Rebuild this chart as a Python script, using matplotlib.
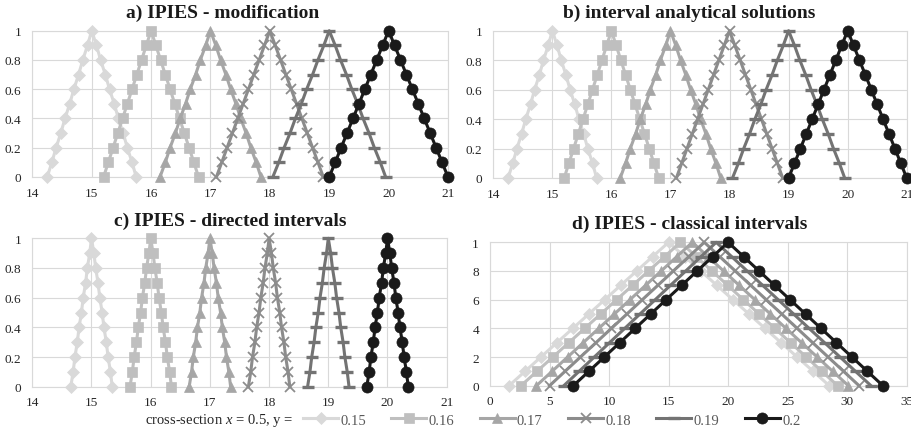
import matplotlib
matplotlib.use("Agg")
import matplotlib.pyplot as plt

plt.rcParams['font.family'] = ['Liberation Serif', 'DejaVu Serif']
plt.rcParams['mathtext.fontset'] = 'custom'
plt.rcParams['mathtext.it'] = 'Liberation Serif:italic'
plt.rcParams['mathtext.rm'] = 'Liberation Serif'

# ---------------- data ----------------
alpha = [0.0, 0.1, 0.2, 0.3, 0.4, 0.5, 0.6, 0.7, 0.8, 0.9, 1.0]
series_labels = ['0.15', '0.16', '0.17', '0.18', '0.19', '0.2']

# a) IPIES - modification (left / right branch at each alpha level)
a_left = [
    [14.25, 14.33, 14.40, 14.48, 14.55, 14.63, 14.70, 14.78, 14.85, 14.93, 15.00],
    [15.20, 15.28, 15.36, 15.44, 15.52, 15.60, 15.68, 15.76, 15.84, 15.92, 16.00],
    [16.15, 16.24, 16.32, 16.41, 16.49, 16.58, 16.66, 16.75, 16.83, 16.92, 17.00],
    [17.10, 17.19, 17.28, 17.37, 17.46, 17.55, 17.64, 17.73, 17.82, 17.91, 18.00],
    [18.05, 18.15, 18.24, 18.34, 18.43, 18.53, 18.62, 18.72, 18.81, 18.91, 19.00],
    [19.00, 19.10, 19.20, 19.30, 19.40, 19.50, 19.60, 19.70, 19.80, 19.90, 20.00],
]
a_right = [
    [15.75, 15.68, 15.60, 15.53, 15.45, 15.38, 15.30, 15.23, 15.15, 15.08, 15.00],
    [16.80, 16.72, 16.64, 16.56, 16.48, 16.40, 16.32, 16.24, 16.16, 16.08, 16.00],
    [17.85, 17.77, 17.68, 17.60, 17.51, 17.43, 17.34, 17.26, 17.17, 17.09, 17.00],
    [18.90, 18.81, 18.72, 18.63, 18.54, 18.45, 18.36, 18.27, 18.18, 18.09, 18.00],
    [19.95, 19.86, 19.76, 19.67, 19.57, 19.48, 19.38, 19.29, 19.19, 19.10, 19.00],
    [21.00, 20.90, 20.80, 20.70, 20.60, 20.50, 20.40, 20.30, 20.20, 20.10, 20.00],
]

# b) interval analytical solutions
b_left = [
    [14.25, 14.33, 14.40, 14.48, 14.55, 14.63, 14.70, 14.78, 14.85, 14.93, 15.00],
    [15.20, 15.28, 15.36, 15.44, 15.52, 15.60, 15.68, 15.76, 15.84, 15.92, 16.00],
    [16.15, 16.24, 16.32, 16.41, 16.49, 16.58, 16.66, 16.75, 16.83, 16.92, 17.00],
    [17.10, 17.19, 17.28, 17.37, 17.46, 17.55, 17.64, 17.73, 17.82, 17.91, 18.00],
    [18.05, 18.15, 18.24, 18.34, 18.43, 18.53, 18.62, 18.72, 18.81, 18.91, 19.00],
    [19.00, 19.10, 19.20, 19.30, 19.40, 19.50, 19.60, 19.70, 19.80, 19.90, 20.00],
]
b_right = [
    [15.75, 15.68, 15.60, 15.53, 15.45, 15.38, 15.30, 15.23, 15.15, 15.08, 15.00],
    [16.80, 16.72, 16.64, 16.56, 16.48, 16.40, 16.32, 16.24, 16.16, 16.08, 16.00],
    [17.85, 17.77, 17.68, 17.60, 17.51, 17.43, 17.34, 17.26, 17.17, 17.09, 17.00],
    [18.90, 18.81, 18.72, 18.63, 18.54, 18.45, 18.36, 18.27, 18.18, 18.09, 18.00],
    [19.95, 19.86, 19.76, 19.67, 19.57, 19.48, 19.38, 19.29, 19.19, 19.10, 19.00],
    [21.00, 20.90, 20.80, 20.70, 20.60, 20.50, 20.40, 20.30, 20.20, 20.10, 20.00],
]

# c) IPIES - directed intervals
c_left = [
    [14.65, 14.69, 14.72, 14.76, 14.79, 14.83, 14.86, 14.90, 14.93, 14.97, 15.00],
    [15.65, 15.69, 15.72, 15.76, 15.79, 15.83, 15.86, 15.90, 15.93, 15.97, 16.00],
    [16.65, 16.69, 16.72, 16.76, 16.79, 16.83, 16.86, 16.90, 16.93, 16.97, 17.00],
    [17.65, 17.69, 17.72, 17.76, 17.79, 17.83, 17.86, 17.90, 17.93, 17.97, 18.00],
    [18.65, 18.69, 18.72, 18.76, 18.79, 18.83, 18.86, 18.90, 18.93, 18.97, 19.00],
    [19.65, 19.69, 19.72, 19.76, 19.79, 19.83, 19.86, 19.90, 19.93, 19.97, 20.00],
]
c_right = [
    [15.35, 15.32, 15.28, 15.25, 15.21, 15.18, 15.14, 15.11, 15.07, 15.04, 15.00],
    [16.35, 16.32, 16.28, 16.25, 16.21, 16.18, 16.14, 16.11, 16.07, 16.04, 16.00],
    [17.35, 17.32, 17.28, 17.25, 17.21, 17.18, 17.14, 17.11, 17.07, 17.04, 17.00],
    [18.35, 18.32, 18.28, 18.25, 18.21, 18.18, 18.14, 18.11, 18.07, 18.04, 18.00],
    [19.35, 19.32, 19.28, 19.25, 19.21, 19.18, 19.14, 19.11, 19.07, 19.04, 19.00],
    [20.35, 20.32, 20.28, 20.25, 20.21, 20.18, 20.14, 20.11, 20.07, 20.04, 20.00],
]

# d) IPIES - classical intervals
d_left = [
    [1.60, 2.94, 4.28, 5.62, 6.96, 8.30, 9.64, 10.98, 12.32, 13.66, 15.00],
    [2.60, 3.94, 5.28, 6.62, 7.96, 9.30, 10.64, 11.98, 13.32, 14.66, 16.00],
    [3.90, 5.21, 6.52, 7.83, 9.14, 10.45, 11.76, 13.07, 14.38, 15.69, 17.00],
    [5.00, 6.30, 7.60, 8.90, 10.20, 11.50, 12.80, 14.10, 15.40, 16.70, 18.00],
    [6.20, 7.48, 8.76, 10.04, 11.32, 12.60, 13.88, 15.16, 16.44, 17.72, 19.00],
    [7.00, 8.30, 9.60, 10.90, 12.20, 13.50, 14.80, 16.10, 17.40, 18.70, 20.00],
]
d_right = [
    [28.50, 27.15, 25.80, 24.45, 23.10, 21.75, 20.40, 19.05, 17.70, 16.35, 15.00],
    [29.20, 27.88, 26.56, 25.24, 23.92, 22.60, 21.28, 19.96, 18.64, 17.32, 16.00],
    [30.10, 28.79, 27.48, 26.17, 24.86, 23.55, 22.24, 20.93, 19.62, 18.31, 17.00],
    [31.00, 29.70, 28.40, 27.10, 25.80, 24.50, 23.20, 21.90, 20.60, 19.30, 18.00],
    [32.00, 30.70, 29.40, 28.10, 26.80, 25.50, 24.20, 22.90, 21.60, 20.30, 19.00],
    [33.00, 31.70, 30.40, 29.10, 27.80, 26.50, 25.20, 23.90, 22.60, 21.30, 20.00],
]

titles = ['a) IPIES - modification', 'b) interval analytical solutions',
          'c) IPIES - directed intervals', 'd) IPIES - classical intervals']
xticks_abc = [14, 15, 16, 17, 18, 19, 20, 21]
xticks_d = [0, 5, 10, 15, 20, 25, 30, 35]
yticks = [0, 0.2, 0.4, 0.6, 0.8, 1]
yticklabels_abc = ['0', '0.2', '0.4', '0.6', '0.8', '1']
yticklabels_d = ['0', '2', '4', '6', '8', '1']

# ---------------- style ----------------
colors = ['#d9d9d9', '#bfbfbf', '#a6a6a6', '#8c8c8c', '#737373', '#1a1a1a']
markers = ['D', 's', '^', 'x', '_', 'o']
msizes = [6.0, 7.0, 7.5, 7.0, 9.0, 8.0]
mews = [0.5, 0.5, 0.5, 1.3, 2.4, 0.5]
grid_c = '#d9d9d9'
text_c = '#262626'

fig = plt.figure(figsize=(9.11, 4.35), dpi=100)
W, H = 911.0, 435.0

def ax_rect(x0, x1, ytop, ybot):
    return [x0 / W, 1 - ybot / H, (x1 - x0) / W, (ybot - ytop) / H]

rects = [ax_rect(32.3, 448.0, 31.7, 178.0),
         ax_rect(493.3, 906.7, 31.7, 179.0),
         ax_rect(32.3, 446.7, 239.3, 387.7),
         ax_rect(490.0, 906.7, 243.3, 386.7)]
title_pos = [(223, 13.5), (689, 13.5), (230, 221.5), (690, 224.5)]
data = [(a_left, a_right), (b_left, b_right), (c_left, c_right), (d_left, d_right)]

handles = []
for k in range(4):
    ax = fig.add_axes(rects[k])
    lefts, rights = data[k]
    for i in range(6):
        xs = list(lefts[i]) + list(rights[i])[::-1][1:]
        ys = list(alpha) + list(alpha)[::-1][1:]
        ln, = ax.plot(xs, ys, color=colors[i], lw=2.2, marker=markers[i],
                      markersize=msizes[i], markeredgewidth=mews[i],
                      markeredgecolor=colors[i], markerfacecolor=colors[i],
                      clip_on=False, zorder=3 + i, label=series_labels[i])
        if k == 0:
            handles.append(ln)
    if k < 3:
        ax.set_xlim(14, 21)
        ax.set_xticks(xticks_abc)
        ax.set_xticklabels([str(v) for v in xticks_abc])
        ax.set_yticks(yticks)
        ax.set_yticklabels(yticklabels_abc)
    else:
        ax.set_xlim(0, 35)
        ax.set_xticks(xticks_d)
        ax.set_xticklabels([str(v) for v in xticks_d])
        ax.set_yticks(yticks)
        ax.set_yticklabels(yticklabels_d)
    ax.set_ylim(0, 1)
    ax.grid(True, color=grid_c, lw=0.8, zorder=0)
    ax.set_axisbelow(True)
    for sp in ax.spines.values():
        sp.set_color(grid_c)
        sp.set_linewidth(0.8)
    ax.tick_params(length=0, labelsize=9.5, colors=text_c)
    ax.tick_params(axis='x', pad=7.0)
    ax.tick_params(axis='y', pad=8.0)
    fig.text(title_pos[k][0] / W, 1 - title_pos[k][1] / H, titles[k],
             ha='center', va='center', fontsize=14, fontweight='bold',
             color='#1a1a1a')

fig.text(145 / W, 1 - 421 / H, r'cross-section $x$ = 0.5, y =', ha='left',
         va='center', fontsize=10.5, color=text_c)
leg = fig.legend(handles=handles, loc='center left',
                 bbox_to_anchor=(303 / W, 1 - 421 / H), ncol=6, frameon=False,
                 fontsize=10.5, handlelength=2.4, handletextpad=0.15,
                 columnspacing=1.75, borderpad=0, borderaxespad=0)
for t in leg.get_texts():
    t.set_color('#595959')

fig.savefig('out.png', dpi=100)
